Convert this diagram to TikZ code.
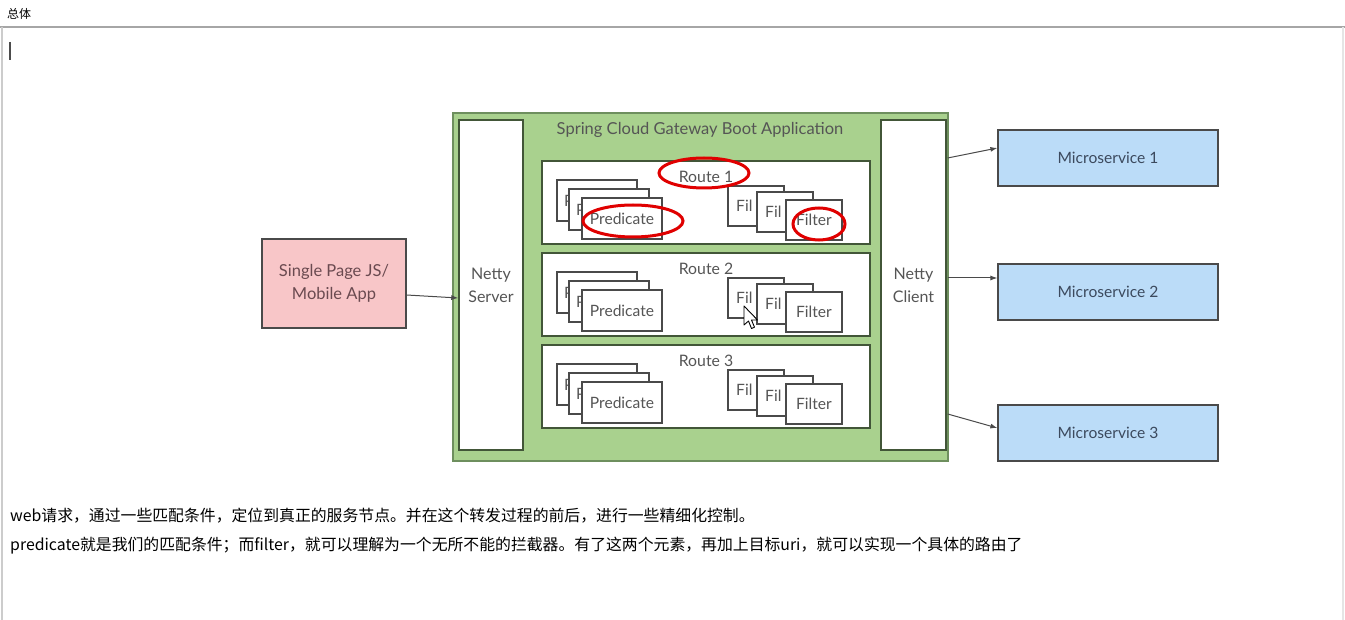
\documentclass[tikz,border=0pt]{standalone}
\usepackage{fontspec}
\setmainfont{Lato}
\newfontfamily\cjk{Noto Sans CJK SC}
\usetikzlibrary{arrows.meta}
\definecolor{gfill}{HTML}{A9D18E}
\definecolor{gline}{HTML}{6E8F5E}
\definecolor{bline}{HTML}{4A4A4A}
\definecolor{txt}{HTML}{555555}
\definecolor{pinkfill}{HTML}{F8C6C8}
\definecolor{pinktxt}{HTML}{6A4A50}
\definecolor{bluefill}{HTML}{BBDCF8}
\definecolor{bluetxt}{HTML}{3C4A5E}
\definecolor{redmark}{HTML}{E00000}
\tikzset{
  box/.style={draw=bline, line width=1.3pt, fill=white, inner sep=0pt, text=txt, font=\fontsize{15.6}{22}\selectfont, align=center},
  gbox/.style={draw=gline, line width=2pt, fill=gfill, inner sep=0pt},
  predbox/.style={box, line width=1.1pt, minimum width=80pt, minimum height=41pt},
  filtbox/.style={box, line width=1.1pt, minimum width=56pt, minimum height=40pt},
  routebox/.style={box, draw=gline!60!black, line width=1.4pt, minimum width=328pt, minimum height=83pt},
  nettybox/.style={box, draw=gline!60!black, line width=1.4pt, minimum height=330pt, font=\fontsize{16}{23}\selectfont},
  msbox/.style={draw=bline, line width=1.2pt, fill=bluefill, text=bluetxt, inner sep=0pt, minimum width=220pt, minimum height=56pt, font=\fontsize{15.6}{18}\selectfont},
  arr/.style={draw=bline, line width=1pt, -{Latex[length=7pt,width=5pt]}},
  redring/.style={draw=redmark, line width=3pt},
  lbl/.style={inner sep=0pt, text=txt, font=\fontsize{15.8}{18}\selectfont},
  frag/.style={inner sep=0pt, anchor=west, text=txt, font=\fontsize{15.6}{18}\selectfont},
  note/.style={inner sep=0pt, anchor=west, font=\cjk\fontsize{15.85}{18}\selectfont, text=black}
}
\begin{document}
\begin{tikzpicture}[x=1pt,y=-1pt]
\useasboundingbox (0,0) rectangle (1345,620);
\fill[white] (0,0) rectangle (1345,620);
% window chrome
\draw[black!35, line width=1.2pt] (0,27) -- (1345,27);
\draw[black!20, line width=1.5pt] (2,27) -- (2,620);
\draw[black!10, line width=1.5pt] (1343,27) -- (1343,620);
\node[inner sep=0pt, anchor=west, font=\cjk\fontsize{12}{14}\selectfont] (hdr) at (7,14) {总体};
\draw[black!70, line width=1.3pt] (10,42) -- (10,60);

% gateway
\node[gbox, minimum width=495pt, minimum height=348pt] (gw) at (700.5,287) {};
\node[lbl, font=\fontsize{16.5}{18}\selectfont] (title) at (700,130) {Spring Cloud Gateway Boot Application};
\node[nettybox, minimum width=64pt] (ns) at (491,285) {Netty\\Server};
\node[nettybox, minimum width=65pt] (nc) at (913.5,285) {Netty\\Client};

\foreach \i/\dy in {1/0,2/92,3/184}{
  \node[routebox] (r\i) at (706,202.5+\dy) {};
  \node[lbl] (rl\i) at (706,177+\dy) {Route \i};
  \node[predbox] (pa\i) at (597,200.5+\dy) {};
  \node[frag] (pat\i) at ([xshift=-33pt]pa\i.center) {P};
  \node[predbox] (pb\i) at (609,209.5+\dy) {};
  \node[frag] (pbt\i) at ([xshift=-33pt]pb\i.center) {P};
  \node[predbox] (pc\i) at (622,218.5+\dy) {Predicate};
  \node[filtbox] (fa\i) at (756,206+\dy) {};
  \node[frag] (fat\i) at ([xshift=-20pt]fa\i.center) {Fil};
  \node[filtbox] (fb\i) at (785,212+\dy) {};
  \node[frag] (fbt\i) at ([xshift=-20pt]fb\i.center) {Fil};
  \node[filtbox] (fc\i) at (814,220+\dy) {Filter};
}

% red annotation marks
\draw[redring] (704,173) ellipse [x radius=45pt, y radius=15pt];
\draw[redring] (633,221) ellipse [x radius=50pt, y radius=16pt];
\draw[redring] (819,224) ellipse [x radius=26pt, y radius=16pt];

% client app
\node[draw=bline, line width=1.3pt, fill=pinkfill, text=pinktxt, inner sep=0pt, minimum width=144pt, minimum height=89pt, align=center, font=\fontsize{16.5}{23}\selectfont] (spa) at (334,283.5) {Single Page JS/\\Mobile App};

% microservices
\node[msbox] (ms1) at (1108,158) {Microservice 1};
\node[msbox] (ms2) at (1108,292) {Microservice 2};
\node[msbox] (ms3) at (1108,433) {Microservice 3};

% connectors
\draw[arr] ([yshift=-11.5pt]spa.east) -- ([yshift=-13pt]ns.west);
\draw[arr] ([xshift=1pt,yshift=127pt]nc.east) -- ([yshift=10pt]ms1.west);
\draw[arr] ([xshift=1pt,yshift=7pt]nc.east) -- ([yshift=14pt]ms2.west);
\draw[arr] ([xshift=1pt,yshift=-129pt]nc.east) -- ([yshift=5pt]ms3.west);

% mouse pointer
\draw[fill=white, draw=black, line width=0.9pt, line join=round] (744,306) -- (744,325) -- (748.5,321) -- (751.5,328.5) -- (754.5,327.2) -- (751.5,320) -- (757.5,320) -- cycle;

% notes
\node[note] (n1) at (10,516) {web请求，通过一些匹配条件，定位到真正的服务节点。并在这个转发过程的前后，进行一些精细化控制。};
\node[note] (n2) at (10,546) {predicate就是我们的匹配条件；而filter，就可以理解为一个无所不能的拦截器。有了这两个元素，再加上目标uri，就可以实现一个具体的路由了};
\end{tikzpicture}
\end{document}
